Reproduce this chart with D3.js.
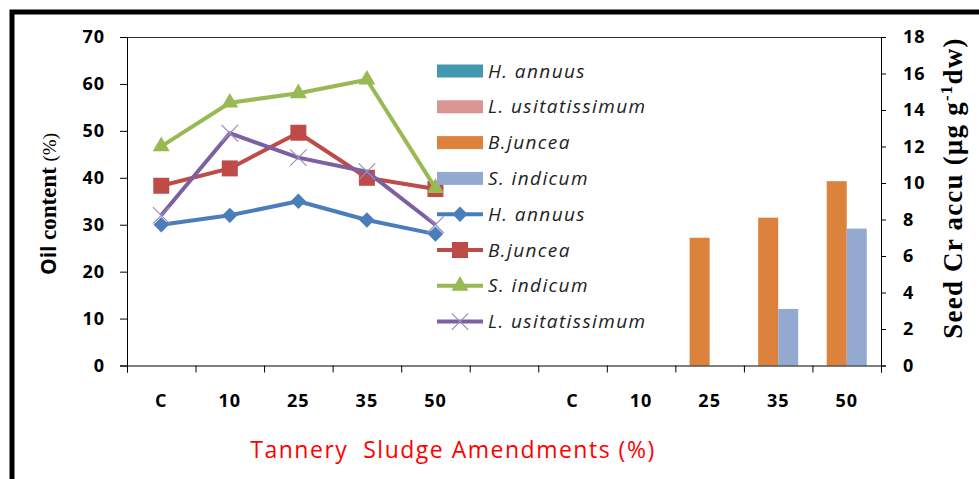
<!DOCTYPE html>
<html>
<head>
<meta charset="utf-8">
<script src="https://cdn.jsdelivr.net/npm/d3@7/dist/d3.min.js"></script>
<style>
  body { margin: 0; background: #fff; }
  svg { display: block; font-family: "Open Sans", sans-serif; }
</style>
</head>
<body>
<svg class="chart"></svg>
<script>
// x categories (shared by lines and bars, 11 slots)
var xCats = ["C", "10", "25", "35", "50", "", "C", "10", "25", "35", "50"];

// Oil content (%) - lines, slots 0..4
var oilHAnnuus = [30, 32, 35, 31, 28];
var oilBJuncea = [38.3, 42, 49.6, 40, 37.6];
var oilSIndicum = [46.7, 56, 58, 60.9, 37.8];
var oilLUsit = [32, 49.5, 44.3, 41.3, 30];

// Seed Cr accumulation - bars, slots 6..10
var crHAnnuus = [0, 0, 0, 0, 0];
var crLUsit = [0, 0, 0, 0, 0];
var crBJuncea = [0, 0, 7, 8.1, 10.1];
var crSIndicum = [0, 0, 0, 3.1, 7.5];

var leftTicks = d3.range(0, 71, 10);
var rightTicks = d3.range(0, 19, 2);

function show() {
    'use strict';
    var W = 979, H = 479;
    var plot = {left: 127, right: 881, top: 37, bottom: 365.5};
    var serif = '"Liberation Serif", "DejaVu Serif", serif';

    var svg = d3.select(".chart").attr("width", W).attr("height", H);

    // outer frame
    svg.append("rect").attr("x", 12).attr("y", 12)
        .attr("width", 1000).attr("height", 500)
        .attr("fill", "none").attr("stroke", "#000").attr("stroke-width", 5);

    var x = d3.scaleBand().domain(d3.range(xCats.length)).range([plot.left, plot.right]);
    var xEdge = d3.scaleLinear().domain([0, xCats.length]).range([plot.left, plot.right]);
    var yL = d3.scaleLinear().domain([0, 70]).range([plot.bottom, plot.top]);
    var yR = d3.scaleLinear().domain([0, 18]).range([plot.bottom, plot.top]);

    // plot area top edge
    svg.append("line").attr("x1", plot.left).attr("x2", plot.right)
        .attr("y1", plot.top + 0.5).attr("y2", plot.top + 0.5)
        .attr("stroke", "#333").attr("stroke-width", 1);

    // bars
    var barSeries = [
        {name: "H. annuus", values: crHAnnuus, color: "#4198af"},
        {name: "L. usitatissimum", values: crLUsit, color: "#d99694"},
        {name: "B.juncea", values: crBJuncea, color: "#dc823c"},
        {name: "S. indicum", values: crSIndicum, color: "#93a9d0"}
    ];
    var shown = barSeries.slice(2);
    var xSub = d3.scaleBand().domain(shown.map(function(s) { return s.name; }))
        .range([0, x.bandwidth()]).paddingOuter(0.7125);

    shown.forEach(function(s) {
        svg.append("g").selectAll("rect")
            .data(s.values.map(function(v, i) { return {v: v, i: i}; })
                .filter(function(d) { return d.v > 0; }))
            .enter().append("rect")
            .attr("x", function(d) { return x(6 + d.i) + xSub(s.name); })
            .attr("y", function(d) { return yR(d.v); })
            .attr("width", xSub.bandwidth())
            .attr("height", function(d) { return yR(0) - yR(d.v); })
            .attr("fill", s.color);
    });

    // axes
    var axL = svg.append("g").attr("transform", "translate(" + plot.left + ",0)")
        .call(d3.axisLeft(yL).tickValues(leftTicks).tickSize(7).tickPadding(15));
    var axR = svg.append("g").attr("transform", "translate(" + plot.right + ",0)")
        .call(d3.axisRight(yR).tickValues(rightTicks).tickSize(5).tickPadding(17));
    var axB = svg.append("g").attr("transform", "translate(0," + plot.bottom + ")")
        .call(d3.axisBottom(xEdge).tickValues(d3.range(xCats.length + 1)).tickSize(7).tickFormat(""));
    var axBL = svg.append("g").attr("transform", "translate(0," + plot.bottom + ")")
        .call(d3.axisBottom(x).tickSize(0).tickPadding(29).tickFormat(function(i) { return xCats[i]; }));
    axBL.select(".domain").remove();

    [axL, axR, axB].forEach(function(a) {
        a.select(".domain").attr("stroke", "#000");
        a.selectAll(".tick line").attr("stroke", "#000");
    });
    [axL, axR, axBL].forEach(function(a) {
        a.selectAll("text").style("font-family", '"Open Sans", sans-serif').attr("font-weight", "bold")
            .attr("font-size", 18).attr("fill", "#000").attr("letter-spacing", 1);
    });

    // lines
    var lineSeries = [
        {name: "H. annuus", values: oilHAnnuus, color: "#4a7ebb", marker: "diamond"},
        {name: "B.juncea", values: oilBJuncea, color: "#be4b48", marker: "square"},
        {name: "S. indicum", values: oilSIndicum, color: "#98b954", marker: "triangle"},
        {name: "L. usitatissimum", values: oilLUsit, color: "#7d60a0", marker: "x"}
    ];
    var line = d3.line()
        .x(function(d, i) { return x(i) + x.bandwidth() / 2; })
        .y(function(d) { return yL(d); });

    function markerPath(kind) {
        if (kind === "diamond") return d3.symbol(d3.symbolSquare, 118)();
        if (kind === "square") return d3.symbol(d3.symbolSquare, 256)();
        if (kind === "triangle") return d3.symbol(d3.symbolTriangle, 125)();
        return d3.symbol(d3.symbolTimes, 180)();
    }
    function drawMarker(g, kind, color, cx, cy) {
        var p = g.append("path").attr("d", markerPath(kind))
            .attr("transform", "translate(" + cx + "," + cy + ")" + (kind === "diamond" ? " rotate(45)" : ""));
        if (kind === "x") p.attr("fill", "none").attr("stroke", "#9c8cc0").attr("stroke-width", 1.2);
        else p.attr("fill", color);
    }

    lineSeries.forEach(function(s) {
        var g = svg.append("g");
        g.append("path").datum(s.values).attr("d", line)
            .attr("fill", "none").attr("stroke", s.color)
            .attr("stroke-width", 4).attr("stroke-linejoin", "round");
        s.values.forEach(function(v, i) {
            drawMarker(g, s.marker, s.color, x(i) + x.bandwidth() / 2, yL(v));
        });
    });

    // legend
    var legend = svg.append("g");
    var lx = 437, lw = 46, ly0 = 71, step = 35.8;
    var entries = barSeries.map(function(s) { return {name: s.name, color: s.color, type: "bar"}; })
        .concat(lineSeries.map(function(s) { return {name: s.name, color: s.color, type: "line", marker: s.marker}; }));
    entries.forEach(function(e, i) {
        var cy = ly0 + i * step;
        if (e.type === "bar") {
            legend.append("rect").attr("x", lx).attr("y", cy - 6.5)
                .attr("width", lw).attr("height", 13).attr("fill", e.color);
        } else {
            legend.append("line").attr("x1", lx).attr("x2", lx + lw)
                .attr("y1", cy).attr("y2", cy)
                .attr("stroke", e.color).attr("stroke-width", 4);
            drawMarker(legend, e.marker, e.color, lx + lw / 2, cy);
        }
        legend.append("text").attr("x", lx + lw + 5).attr("y", cy).attr("dy", "0.35em")
            .attr("font-size", 19).attr("font-style", "italic").attr("letter-spacing", 1.4)
            .attr("fill", "#222").text(e.name);
    });

    // left title
    var tl = svg.append("text").attr("transform", "translate(56,204) rotate(-90)")
        .attr("text-anchor", "middle").attr("fill", "#000");
    tl.append("tspan").style("font-family", '"Open Sans", sans-serif').attr("font-weight", "bold")
        .attr("font-size", 21).text("Oil ");
    tl.append("tspan").style("font-family", serif).attr("font-weight", "bold")
        .attr("font-size", 23).text("content ");
    tl.append("tspan").style("font-family", serif)
        .attr("font-size", 19).text("(%)");

    // right title
    var tr = svg.append("text").attr("transform", "translate(962,188) rotate(-90)")
        .attr("text-anchor", "middle").attr("fill", "#000")
        .style("font-family", serif).attr("font-weight", "bold").attr("font-size", 27)
        .attr("letter-spacing", 1.2);
    tr.append("tspan").text("Seed Cr accu (\u00b5g g");
    tr.append("tspan").attr("font-size", 17).attr("dy", -10).text("-1");
    tr.append("tspan").attr("dy", 10).text("dw)");

    // x title
    svg.append("text").attr("x", 453).attr("y", 458)
        .attr("text-anchor", "middle").attr("fill", "#ff0000")
        .attr("font-size", 23).attr("letter-spacing", 1.5)
        .style("white-space", "pre")
        .text("Tannery  Sludge Amendments (%)");
}
show();
</script>
</body>
</html>
